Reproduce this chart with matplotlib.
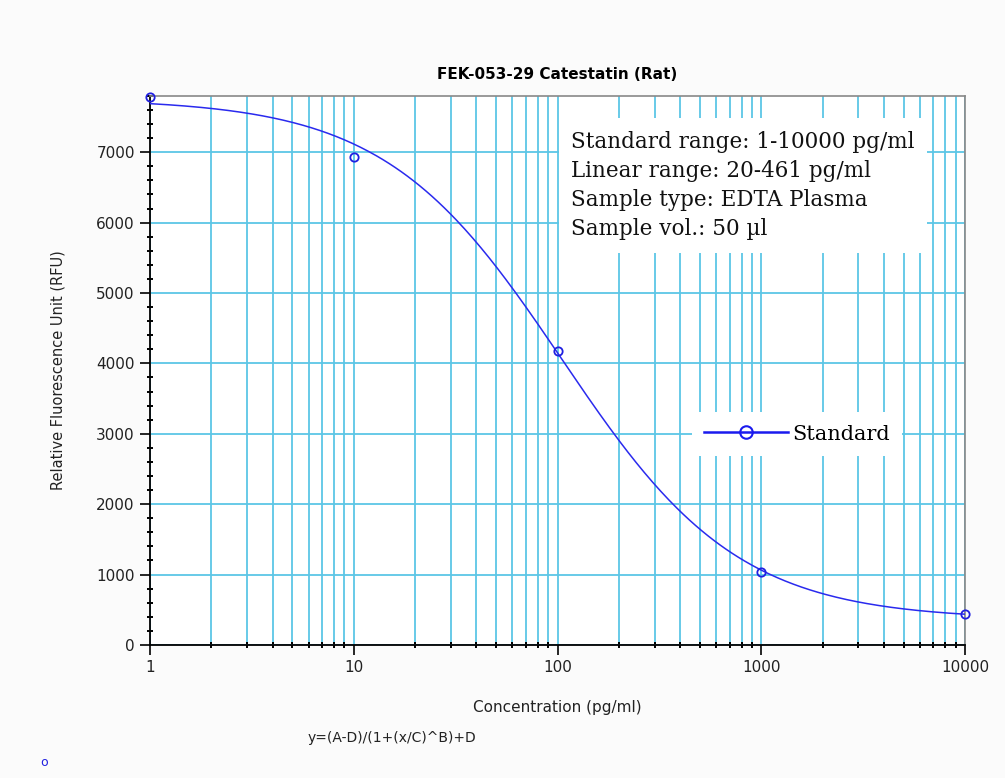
import matplotlib.pyplot as plt
import numpy as np
from matplotlib.ticker import LogLocator, MultipleLocator, FixedFormatter, FixedLocator

# standard points
conc = [1, 10, 100, 1000, 10000]
rfu = [7780, 6930, 4170, 1040, 440]

# 4PL fit parameters
A, B, C, D = 7760, 1.0, 105, 360

xticks = [1, 10, 100, 1000, 10000]
xticklabels = ['1', '10', '100', '1000', '10000']
yticks = [0, 1000, 2000, 3000, 4000, 5000, 6000, 7000]

info = ['Standard range: 1-10000 pg/ml',
        'Linear range: 20-461 pg/ml',
        'Sample type: EDTA Plasma',
        'Sample vol.: 50 \u00b5l']

sky = '#5cc6e6'
sans = 'DejaVu Sans'

fig = plt.figure(figsize=(10.05, 7.78), dpi=100)
fig.patch.set_facecolor('#fbfbfb')
ax = fig.add_axes([0.1493, 0.1710, 0.8109, 0.7057])
ax.set_facecolor('white')

xs = np.logspace(0, 4, 400)
ys = (A - D) / (1 + (xs / C) ** B) + D
ax.plot(xs, ys, color='#2a2aee', lw=1.1, zorder=3)
ax.plot(conc, rfu, 'o', mfc='none', mec='#2020e0', mew=1.3, ms=6, zorder=4,
        clip_on=False)

ax.set_xscale('log')
ax.set_xlim(1, 10000)
ax.set_ylim(0, 7800)
ax.xaxis.set_major_locator(FixedLocator(xticks))
ax.xaxis.set_major_formatter(FixedFormatter(xticklabels))
ax.xaxis.set_minor_locator(LogLocator(base=10, subs=np.arange(2, 10)))
ax.xaxis.set_minor_formatter(FixedFormatter([]))
ax.yaxis.set_major_locator(FixedLocator(yticks))
ax.yaxis.set_minor_locator(MultipleLocator(200))

ax.grid(True, which='both', axis='x', color=sky, lw=1.3, zorder=0)
ax.grid(True, which='major', axis='y', color=sky, lw=1.3, zorder=0)
ax.set_axisbelow(True)

ax.tick_params(which='major', direction='out', length=7, width=1.2,
               labelsize=11, colors='black', pad=4)
ax.tick_params(which='minor', direction='inout', length=4, width=1.4)
for lab in ax.get_xticklabels() + ax.get_yticklabels():
    lab.set_family(sans)
    lab.set_color('#222222')

for s in ['left', 'bottom']:
    ax.spines[s].set_color('black')
    ax.spines[s].set_linewidth(1.3)
for s in ['top', 'right']:
    ax.spines[s].set_color('#888888')
    ax.spines[s].set_linewidth(1.2)

ax.set_title('FEK-053-29 Catestatin (Rat)', fontsize=11, fontweight='bold',
             family=sans, pad=12)
ax.set_xlabel('Concentration (pg/ml)', fontsize=11, family=sans,
              labelpad=18, color='#222222')
ax.set_ylabel('Relative Fluorescence Unit (RFU)', fontsize=10.5,
              family=sans, labelpad=22, color='#222222')

ax.text(0.517, 0.937, '\n'.join(info), transform=ax.transAxes, fontsize=15.5,
        family='DejaVu Serif', va='top', ha='left', linespacing=1.43,
        zorder=6, color='#111111',
        bbox=dict(facecolor='white', edgecolor='none', pad=9))

# legend
leg_line, = ax.plot([], [], '-o', color='#1a1aee', mfc='none', mec='#1a1aee',
                    mew=1.5, ms=9, lw=1.8)
leg = ax.legend([leg_line], ['Standard'], loc='center left',
                bbox_to_anchor=(0.652, 0.384), frameon=True, fancybox=False,
                edgecolor='none', framealpha=1,
                prop={'family': 'DejaVu Serif', 'size': 15},
                handlelength=4.0, handletextpad=0.2, borderpad=0.6)
leg.set_zorder(6)

fig.text(0.306, 0.046, 'y=(A-D)/(1+(x/C)^B)+D', fontsize=10,
         family=sans, color='#222222')
fig.text(0.040, 0.016, 'o', fontsize=9, color='#2020e0', family=sans)

plt.savefig('out.png', dpi=100, facecolor=fig.get_facecolor())
